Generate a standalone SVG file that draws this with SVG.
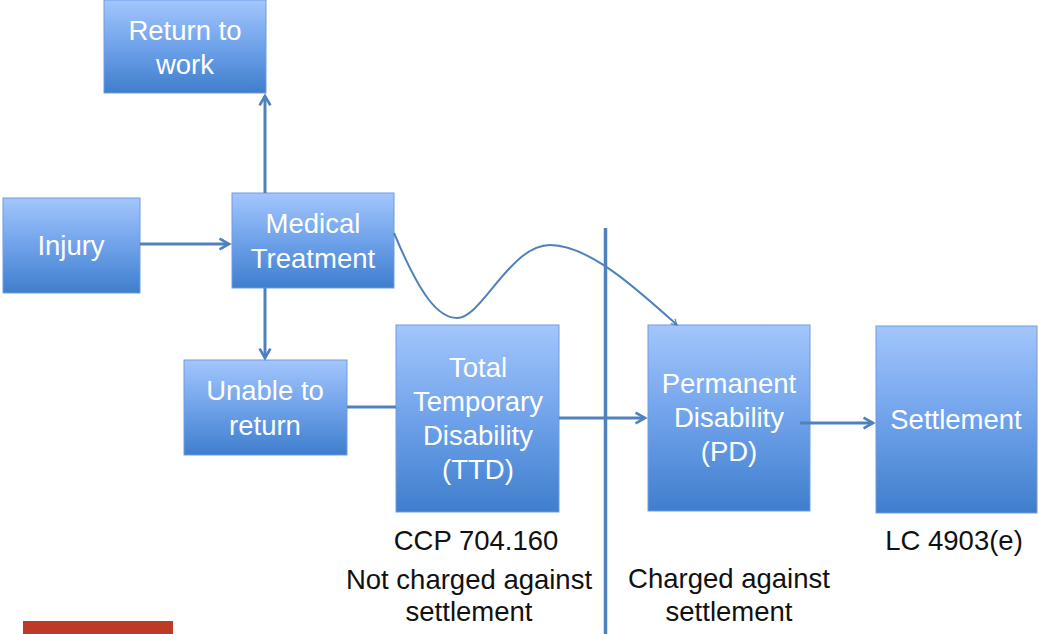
<svg xmlns="http://www.w3.org/2000/svg" width="1038" height="634" viewBox="0 0 1038 634">
<defs>
<linearGradient id="g" x1="0" y1="0" x2="0" y2="1">
<stop offset="0" stop-color="#a3c6fc"/>
<stop offset="0.5" stop-color="#6fa2ea"/>
<stop offset="1" stop-color="#3f7ecd"/>
</linearGradient>
<marker id="ah" viewBox="0 0 10 10" refX="8" refY="5" markerWidth="4.5" markerHeight="4.5" orient="auto" markerUnits="strokeWidth">
<path d="M1,1 L8,5 L1,9" fill="none" stroke="#4f81bd" stroke-width="2"/>
</marker>
<marker id="ahs" viewBox="0 0 10 10" refX="8" refY="5" markerWidth="4" markerHeight="4" orient="auto" markerUnits="strokeWidth">
<path d="M1,1 L8,5 L1,9" fill="none" stroke="#4f81bd" stroke-width="1.5"/>
</marker>
</defs>
<style>
.box{fill:url(#g);stroke:#6f9be0;stroke-width:1}
.t{font-family:"Liberation Sans",Arial,sans-serif;font-size:27.5px;fill:#ffffff;text-anchor:middle}
.b{font-family:"Liberation Sans",Arial,sans-serif;font-size:27.5px;fill:#111111;text-anchor:middle}
.c{fill:none;stroke:#4f81bd;stroke-width:3}
</style>
<rect width="1038" height="634" fill="#ffffff"/>
<g id="divider"><line x1="605.5" y1="228" x2="605.5" y2="634" stroke="#4f81bd" stroke-width="3.5"/></g>
<g id="return-to-work"><rect class="box" x="104" y="0" width="162" height="93"/><text class="t" x="185" y="40">Return to</text><text class="t" x="185" y="74">work</text></g>
<g id="injury"><rect class="box" x="3" y="198" width="137" height="95"/><text class="t" x="71" y="255">Injury</text></g>
<g id="medical-treatment"><rect class="box" x="232" y="193" width="162" height="95"/><text class="t" x="313" y="233">Medical</text><text class="t" x="313" y="268">Treatment</text></g>
<g id="unable-to-return"><rect class="box" x="184" y="360" width="163" height="95"/><text class="t" x="265" y="400">Unable to</text><text class="t" x="265" y="435">return</text></g>
<g id="ttd"><rect class="box" x="396" y="325" width="163" height="187"/><text class="t" x="478" y="377">Total</text><text class="t" x="478" y="411">Temporary</text><text class="t" x="478" y="445">Disability</text><text class="t" x="478" y="479">(TTD)</text></g>
<g id="pd"><rect class="box" x="648" y="325" width="162" height="186"/><text class="t" x="729" y="393">Permanent</text><text class="t" x="729" y="427">Disability</text><text class="t" x="729" y="461">(PD)</text></g>
<g id="settlement"><rect class="box" x="876" y="326" width="161" height="187"/><text class="t" x="956" y="429">Settlement</text></g>
<g id="connectors">
<line class="c" x1="140" y1="244" x2="229" y2="244" marker-end="url(#ah)"/>
<line class="c" x1="265" y1="193" x2="265" y2="96" marker-end="url(#ah)"/>
<line class="c" x1="265" y1="288" x2="265" y2="358" marker-end="url(#ah)"/>
<line class="c" x1="347" y1="407" x2="396" y2="407"/>
<line class="c" x1="559" y1="418" x2="645" y2="418" marker-end="url(#ah)"/>
<line class="c" x1="800" y1="423" x2="873" y2="423" marker-end="url(#ah)"/>
<path d="M394,233 C420,295 438,318 457,318 C482,318 510,245 550,245 C590,245 640,292 677,325" fill="none" stroke="#4f81bd" stroke-width="2" marker-end="url(#ahs)"/>
</g>
<g id="labels">
<text class="b" x="476" y="550">CCP 704.160</text>
<text class="b" x="469" y="589">Not charged against</text>
<text class="b" x="469" y="621">settlement</text>
<text class="b" x="729" y="588">Charged against</text>
<text class="b" x="729" y="621">settlement</text>
<text class="b" x="954" y="550">LC 4903(e)</text>
</g>
<rect x="23" y="621" width="150" height="13" fill="#be3a26"/>
</svg>
